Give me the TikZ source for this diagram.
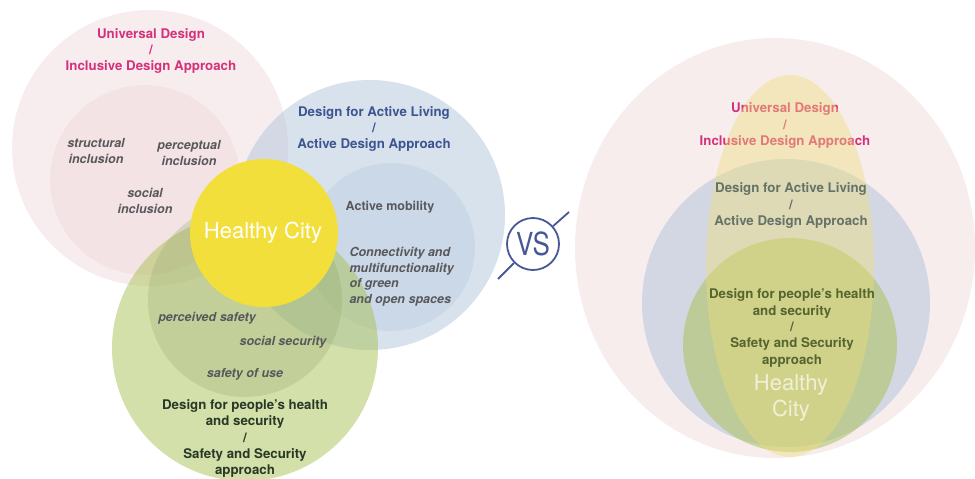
\documentclass[tikz,border=0pt]{standalone}
\usepackage{fontspec}
\setmainfont{TeX Gyre Heros}
\usetikzlibrary{positioning,shapes.geometric}

\definecolor{inclpink}{RGB}{237,211,213}
\definecolor{actblue}{RGB}{171,193,217}
\definecolor{safegreen}{RGB}{169,193,85}
\definecolor{safedark}{RGB}{140,160,100}
\definecolor{cityyellow}{RGB}{242,223,60}
\definecolor{cityveil}{RGB}{240,222,120}
\definecolor{incltext}{RGB}{214,48,122}
\definecolor{acttext}{RGB}{60,85,145}
\definecolor{acttextb}{RGB}{100,114,104}
\definecolor{itemtext}{RGB}{88,88,92}
\definecolor{safetext}{RGB}{40,56,38}
\definecolor{safetextb}{RGB}{85,101,47}
\definecolor{citytext}{RGB}{240,240,214}
\definecolor{vsblue}{RGB}{72,88,150}

\tikzset{
    set/.style={circle, inner sep=0pt, fill opacity=0.5},
    title/.style={
        align=center,
        font=\bfseries\fontsize{13.3}{16.3}\selectfont
    },
    item/.style={
        align=center,
        text=itemtext,
        font=\bfseries\itshape\fontsize{12.5}{15.5}\selectfont
    },
    plain/.style={
        align=center,
        text=itemtext,
        font=\bfseries\fontsize{12.5}{15.5}\selectfont
    },
    citylbl/.style={
        align=center,
        font=\fontsize{22}{26}\selectfont
    }
}

\begin{document}
\begin{tikzpicture}[x=1pt, y=-1pt]
\useasboundingbox (0,0) rectangle (975,479);

% three approaches around the healthy city
\node[set, fill=inclpink, fill opacity=0.4, minimum size=276pt] (univ) at (150,148) {};
\node[set, fill=inclpink, fill opacity=0.4, minimum size=190pt] (univin) at (145,180) {};
\node[set, fill=actblue, fill opacity=0.47, minimum size=270pt] (active) at (370,215) {};
\node[set, fill=actblue, fill opacity=0.3, minimum size=168pt] (activein) at (391,247) {};
\node[set, fill=safegreen, minimum size=266pt] (safety) at (245,348) {};
\node[set, fill=safedark, fill opacity=0.25, minimum size=194pt] (safetyin) at (245,300) {};
\node[circle, inner sep=0pt, fill=cityyellow, minimum size=148pt] (city) at (264,233) {};

\node[title, text=incltext] (univtitle) at (151,51)
    {Universal Design\\/\\Inclusive Design Approach};
\node[item] (structural) at (96,151) {structural\\inclusion};
\node[item] (perceptual) at (189,153) {perceptual\\inclusion};
\node[item] (social) at (145,201) {social\\inclusion};

\node[title, text=acttext] (acttitle) at (374,129)
    {Design for Active Living\\/\\Active Design Approach};
\node[plain] (mobility) at (390,207) {Active mobility};
\node[item, align=left, anchor=west] (green) at (346,276.5)
    {Connectivity and\\multifunctionality\\of green\\and open spaces};

\node[item] (perceived) at (207,318) {perceived safety};
\node[item] (socsec) at (283,342) {social security};
\node[item] (use) at (245,374) {safety of use};
\node[title, text=safetext] (safetitle) at (245,438.5)
    {Design for people’s health\\and security\\/\\Safety and Security\\approach};

\node[citylbl, text=white] (citytitle) at (263,233) {Healthy City};

% versus sign
\fill[white] (507,192) rectangle (573,296);
\node[circle, draw=vsblue, line width=1.8pt, minimum size=52pt, inner sep=0pt,
    text=vsblue, font=\fontsize{26}{26}\selectfont] (vs) at (533,244)
    {\scalebox{1}[1.22]{VS}};
\coordinate (vsa) at (498,279);
\coordinate (vsb) at (569,212);
\draw[vsblue, line width=1.8pt] (vsa) -- (vs);
\draw[vsblue, line width=1.8pt] (vs) -- (vsb);

% nested view
\fill[inclpink, fill opacity=0.42] (775,248) ellipse [x radius=200pt, y radius=210pt];
\node[set, fill=actblue, fill opacity=0.48, minimum size=288pt] (activeb) at (786,303) {};
\node[set, fill=safegreen, fill opacity=0.52, minimum size=214pt] (safetyb) at (790,345) {};

\node[title, text=incltext] (univtitleb) at (785,125.5)
    {Universal Design\\/\\Inclusive Design Approach};

\fill[cityveil, fill opacity=0.42] (790,266) ellipse [x radius=84pt, y radius=191pt];

\node[title, text=acttextb] (acttitleb) at (791,205.5)
    {Design for Active Living\\/\\Active Design Approach};
\node[title, text=safetextb] (safetitleb) at (792,328)
    {Design for people’s health\\and security\\/\\Safety and Security\\approach};
\node[citylbl, text=citytext] (citytitleb) at (791,398) {Healthy\\City};

\end{tikzpicture}
\end{document}
